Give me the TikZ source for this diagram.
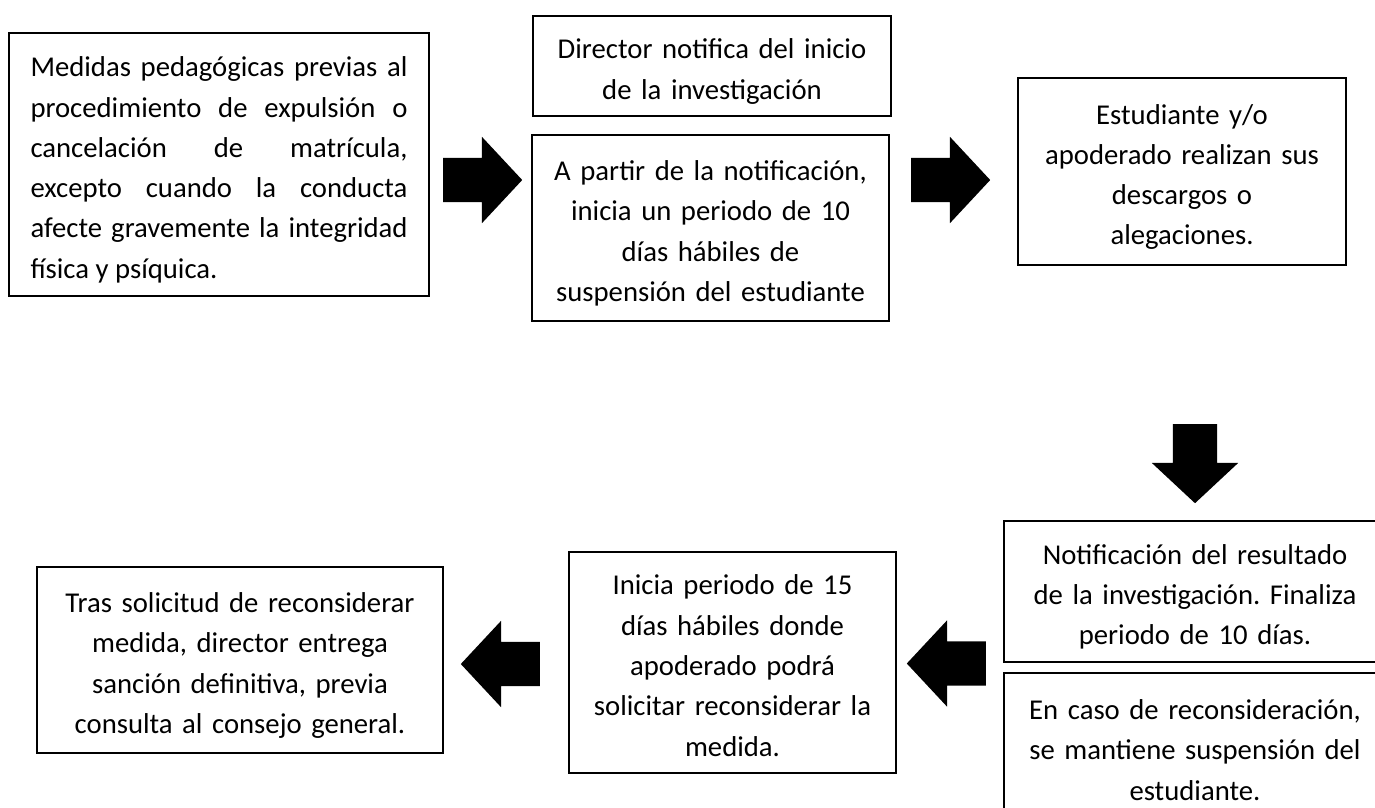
\documentclass[tikz,border=0pt]{standalone}
\usepackage{fontspec}
\setmainfont{Carlito}
\usetikzlibrary{shapes.arrows}
\setlength{\parindent}{0pt}
\frenchspacing

\begin{document}
\begin{tikzpicture}[x=1pt, y=-1pt,
		caja/.style={rectangle, draw, line width=2pt, inner sep=0pt, align=center, font=\fontsize{28.7}{40.3}\selectfont, execute at begin node=\rule{0pt}{38pt}, execute at end node=\strut},
		flecha/.style={single arrow, fill=black, anchor=tail, inner xsep=0pt, inner ysep=22pt, minimum height=79pt, single arrow head extend=21pt, single arrow tip angle=94}]
		\useasboundingbox (0,0) rectangle (1375,807);
		\clip (0,0) rectangle (1375,807);

		\node (medidas) [caja, align=justify, text width=377pt, minimum width=420pt, minimum height=263pt] at (219,164.5) {Medidas pedagógicas previas al\linebreak procedimiento de expulsión o\linebreak cancelación de matrícula,\linebreak excepto cuando la conducta\linebreak afecte gravemente la integridad\linebreak física y psíquica.};
		\node (notifica) [caja, text width=340pt, minimum width=358pt, minimum height=100pt] at (712,66) {Director notifica del inicio\\ de la investigación};
		\node (periodo) [caja, text width=340pt, minimum width=357pt, minimum height=186pt] at (710.5,228) {A partir de la notificación,\\ inicia un periodo de 10\\ días hábiles de\\ suspensión del estudiante};
		\node (descargos) [caja, text width=310pt, minimum width=328pt, minimum height=187pt] at (1182,171.5) {Estudiante y/o\\ apoderado realizan sus\\ descargos o\\ alegaciones.};
		\node (resultado) [caja, text width=360pt, minimum width=382pt, minimum height=141pt] at (1195,591.5) {Notificación del resultado\\ de la investigación. Finaliza\\ periodo de 10 días.};
		\node (reconsideracion) [caja, text width=360pt, minimum width=382pt, minimum height=148pt] at (1195,747) {En caso de reconsideración,\\ se mantiene suspensión del\\ estudiante.};
		\node (plazo) [caja, text width=310pt, minimum width=327pt, minimum height=221pt] at (732.5,662.5) {Inicia periodo de 15\\ días hábiles donde\\ apoderado podrá\\ solicitar reconsiderar la\\ medida.};
		\node (sancion) [caja, text width=390pt, minimum width=406pt, minimum height=186pt] at (240,660) {Tras solicitud de reconsiderar\\ medida, director entrega\\ sanción definitiva, previa\\ consulta al consejo general.};

		\node (flecha1) [flecha] at (443,180) {};
		\node (flecha2) [flecha] at (911,180) {};
		\node (flecha3) [flecha, rotate=-90] at (1195,424) {};
		\node (flecha4) [flecha, rotate=180] at (540,664) {};
		\node (flecha5) [flecha, rotate=180] at (986,663.5) {};
	\end{tikzpicture}
\end{document}
